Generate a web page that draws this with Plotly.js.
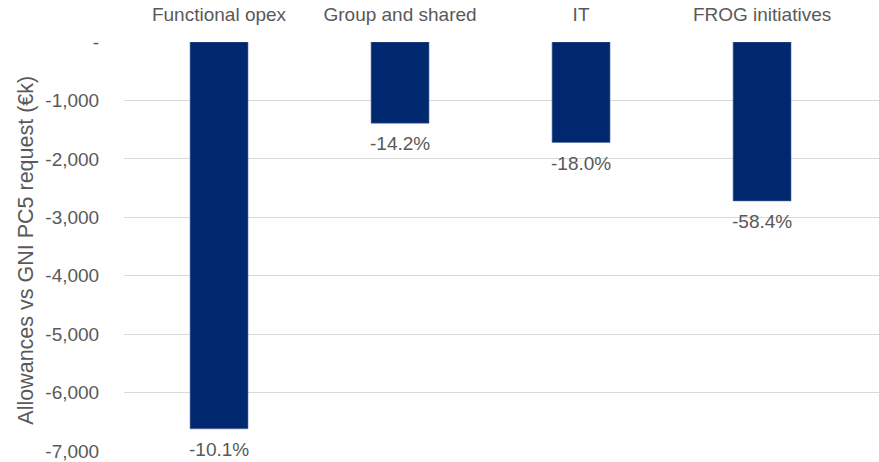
<!DOCTYPE html>
<html>
<head>
<meta charset="utf-8">
<script src="https://cdn.plot.ly/plotly-3.0.1.min.js"></script>
<style>html,body{margin:0;padding:0;background:#fff;}#chart{width:879px;height:462px;}</style>
</head>
<body>
<div id="chart"></div>
<script>
const categories = ["Functional opex", "Group and shared", "IT", "FROG initiatives"];
const values = [-6620, -1390, -1720, -2720];
const pctLabels = ["-10.1%", "-14.2%", "-18.0%", "-58.4%"];
const yTickVals = [0, -1000, -2000, -3000, -4000, -5000, -6000, -7000];
const yTickText = ["-", "-1,000", "-2,000", "-3,000", "-4,000", "-5,000", "-6,000", "-7,000"];
const yTitle = "Allowances vs GNI PC5 request (€k)";

const textColor = "#595959";
const fontFamily = "Liberation Sans, Arial, sans-serif";

const trace = {
  type: "bar",
  x: categories,
  y: values,
  width: 0.32,
  marker: {color: "#00286e", line: {color: "#5a6fa3", width: 0.6}},
  hoverinfo: "skip",
  cliponaxis: false
};

const annotations = categories.map((c, i) => ({
  x: c, y: values[i], xref: "x", yref: "y",
  text: pctLabels[i], showarrow: false,
  yanchor: "top", yshift: -8,
  font: {family: fontFamily, size: 19, color: textColor}
}));
annotations.push({
  xref: "paper", yref: "paper", x: -0.131, y: 0.49,
  xanchor: "center", yanchor: "middle",
  text: yTitle, textangle: -90, showarrow: false,
  font: {family: fontFamily, size: 21.5, color: textColor}
});

const layout = {
  width: 879, height: 462,
  margin: {l: 124, r: 0, t: 42, b: 11},
  paper_bgcolor: "#ffffff", plot_bgcolor: "#ffffff",
  showlegend: false,
  font: {family: fontFamily, color: textColor},
  xaxis: {
    side: "top", type: "category",
    range: [-0.525, 3.646],
    showgrid: false, zeroline: false, showline: false,
    ticks: "outside", ticklen: 12, tickcolor: "rgba(0,0,0,0)",
    tickfont: {family: fontFamily, size: 19, color: textColor},
    automargin: false
  },
  yaxis: {
    range: [-7000, 0],
    tickvals: yTickVals, ticktext: yTickText,
    showgrid: true, gridcolor: "#d9d9d9", gridwidth: 1,
    zeroline: false, showline: false,
    ticks: "outside", ticklen: 20, tickcolor: "rgba(0,0,0,0)",
    tickfont: {family: fontFamily, size: 19, color: textColor},
    automargin: false
  },
  annotations: annotations
};

Plotly.newPlot("chart", [trace], layout, {displayModeBar: false, staticPlot: true});
</script>
</body>
</html>
